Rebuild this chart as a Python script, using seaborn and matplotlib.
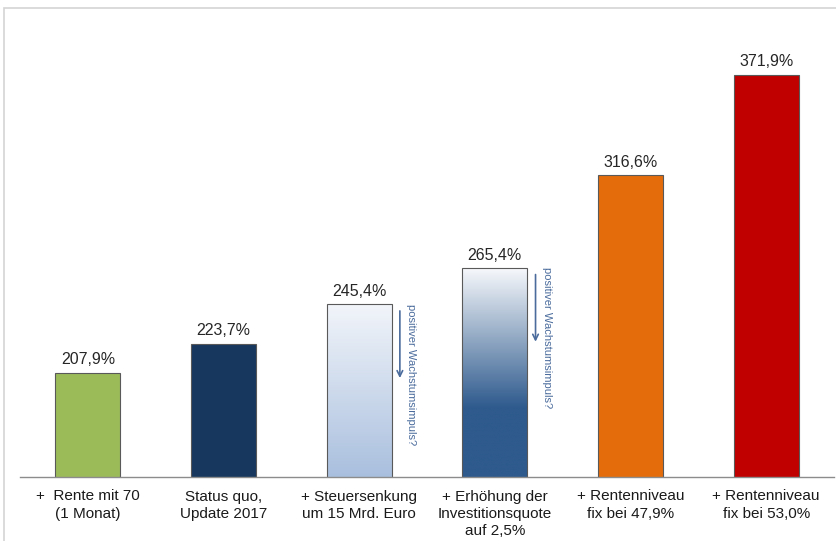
import numpy as np
import pandas as pd
import seaborn as sns
import matplotlib.pyplot as plt
from matplotlib.colors import LinearSegmentedColormap
from matplotlib.patches import Rectangle

kategorien = ["+  Rente mit 70\n(1 Monat)",
              "Status quo,\nUpdate 2017",
              "+ Steuersenkung\num 15 Mrd. Euro",
              "+ Erhöhung der\nInvestitionsquote\nauf 2,5%",
              "+ Rentenniveau\nfix bei 47,9%",
              "+ Rentenniveau\nfix bei 53,0%"]
werte = [207.9, 223.7, 245.4, 265.4, 316.6, 371.9]
farben = ["#9bbb59", "#17375e", "#b0c5e2", "#2f5b8e", "#e46c0a", "#c00000"]
# Balken mit Farbverlauf: index -> (unten, Haltepunkt, oben)
verlauf = {2: ("#a9bfde", 0.0, "#f2f5fa"),
           3: ("#2e5a8d", 0.33, "#f6f8fb")}
impuls_text = "positiver Wachstumsimpuls?"
impuls_balken = [2, 3]

sns.set_style("white")
plt.rcParams["font.family"] = ["Liberation Sans", "DejaVu Sans"]

df = pd.DataFrame({"Kategorie": kategorien, "Wert": werte})

fig = plt.figure(figsize=(8.36, 5.41), dpi=100)
ax = fig.add_axes([20 / 836, 64 / 541, 814 / 836, 469 / 541])

sns.barplot(data=df, x="Kategorie", y="Wert", hue="Kategorie",
            palette=farben, legend=False, width=0.48, ax=ax,
            edgecolor="#595959", linewidth=0.8, saturation=1)

ymin, ymax = 150.5, 408.5
bars = sorted(ax.patches, key=lambda p: p.get_x())

for i, bar in enumerate(bars):
    x0, w, h = bar.get_x(), bar.get_width(), bar.get_height()
    if i in verlauf:
        unten, halt, oben = verlauf[i]
        cmap = LinearSegmentedColormap.from_list(
            "v%d" % i, [(0, unten), (max(halt, 0.001), unten), (1, oben)])
        grad = np.linspace(0, 1, 256).reshape(-1, 1)
        img = ax.imshow(grad, cmap=cmap, origin="lower", aspect="auto",
                        extent=[x0, x0 + w, ymin, h], zorder=0.9)
        img.set_clip_path(bar)
        bar.set_facecolor("none")
    ax.annotate(f"{werte[i]:.1f}%".replace(".", ","),
                xy=(x0 + w / 2, h), xytext=(0, 4), textcoords="offset points",
                ha="center", va="bottom", fontsize=11.5, color="#262626")

for i in impuls_balken:
    bar = bars[i]
    mitte = bar.get_x() + bar.get_width() / 2
    h = bar.get_height()
    ax.annotate("", xy=(mitte + 0.30, h - 42), xytext=(mitte + 0.30, h - 2),
                arrowprops=dict(arrowstyle="->", color="#4a6b9c", lw=1.2))
    ax.text(mitte + 0.385, h + 0.5, impuls_text, rotation=270,
            ha="center", va="top", fontsize=8, color="#4a6b9c")

ax.set_xlim(-0.5, 5.5)
ax.set_ylim(ymin, ymax)
ax.set_xlabel("")
ax.set_ylabel("")
ax.set_yticks([])
for s in ["left", "top", "right"]:
    ax.spines[s].set_visible(False)
ax.spines["bottom"].set_color("#8c8c8c")
ax.spines["bottom"].set_linewidth(1.0)

ax.set_xticks(range(len(kategorien)))
ax.set_xticklabels(kategorien, fontsize=11, color="#1a1a1a", linespacing=1.3)
ax.set_xticks(np.arange(-0.5, len(kategorien), 1), minor=True)
ax.tick_params(axis="x", which="major", length=0, pad=9)
ax.tick_params(axis="x", which="minor", length=7, width=1.0,
               color="#8c8c8c", direction="out")

fig.patches.append(Rectangle((4 / 836, -0.05), 1.2, 1.05 - 8 / 541,
                             transform=fig.transFigure, fill=False,
                             edgecolor="#d4d4d4", linewidth=1.2))

fig.savefig("out.png", dpi=100, facecolor="white")
